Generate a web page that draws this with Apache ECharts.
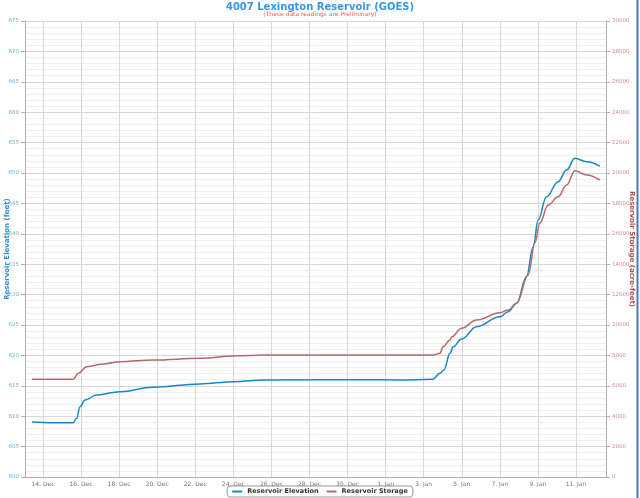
<!DOCTYPE html>
<html>
<head>
<meta charset="utf-8">
<script src="https://cdn.jsdelivr.net/npm/echarts@6/dist/echarts.min.js"></script>
<style>
html,body{margin:0;padding:0;background:#fff;}
#chart{width:640px;height:498px;}
</style>
</head>
<body>
<div id="chart"></div>
<script>
// x values: day number counted from 1 Dec (Dec d = d, Jan d = 31 + d)
const elevDays = [13.42, 14.53, 15.58, 15.77, 15.94, 16.21, 16.82, 18.04, 19.78, 22.25, 23.98, 25.75, 31.00, 32.75, 34.48, 34.85, 35.06, 35.38, 35.55, 35.99, 36.78, 38.00, 38.44, 38.88, 39.40, 39.75, 40.01, 40.45, 41.06, 41.51, 41.94, 42.56, 43.25];
const elevValues = [609.05, 608.93, 608.93, 609.65, 611.56, 612.66, 613.49, 614.03, 614.76, 615.30, 615.68, 615.96, 616.00, 615.95, 616.07, 617.06, 617.60, 620.35, 621.43, 622.70, 624.72, 626.37, 627.19, 628.57, 632.95, 637.88, 642.27, 646.10, 648.57, 650.50, 652.42, 651.86, 651.15];
const storDays = [13.42, 15.59, 15.85, 16.30, 17.17, 18.04, 19.79, 22.25, 23.98, 25.75, 31.00, 34.50, 34.85, 35.02, 35.38, 35.47, 35.99, 36.78, 38.00, 38.44, 38.88, 39.49, 39.84, 40.10, 40.54, 41.06, 41.51, 41.94, 42.56, 43.25];
const storValues = [6428, 6428, 6822, 7257, 7434, 7586, 7697, 7809, 7961, 8026, 8026, 8026, 8138, 8572, 9013, 9230, 9783, 10329, 10809, 10987, 11428, 13290, 15395, 16711, 17895, 18441, 19211, 20152, 19869, 19540];
const xTickDays = [14, 16, 18, 20, 22, 24, 26, 28, 30, 32, 34, 36, 38, 40, 42];
const titleText = '4007 Lexington Reservoir (GOES)';
const subtitleText = '(These data readings are Preliminary)';
const seriesNames = ['Reservoir Elevation', 'Reservoir Storage'];
const axisNames = ['Reservoir Elevation (feet)', 'Reservoir Storage (acre-feet)'];

const FONT = '"DejaVu Sans", Verdana, sans-serif';
const chart = echarts.init(document.getElementById('chart'), null, {renderer: 'canvas'});
const zip = (a, b) => a.map((x, i) => [x, b[i]]);

chart.setOption({
  backgroundColor: '#ffffff',
  animation: false,
  title: {
    text: titleText,
    subtext: subtitleText,
    left: 'center',
    top: -3,
    itemGap: -1,
    textStyle: {fontFamily: FONT, fontSize: 10, fontWeight: 'bold', color: '#3399e6'},
    subtextStyle: {fontFamily: FONT, fontSize: 6, color: '#f05a5a'}
  },
  legend: {
    bottom: 1,
    left: 'center',
    itemWidth: 10,
    itemHeight: 2,
    itemGap: 8,
    padding: [2, 5],
    borderColor: '#999',
    borderWidth: 1,
    borderRadius: 3,
    icon: 'rect',
    textStyle: {fontFamily: FONT, fontSize: 6.5, fontWeight: 'bold', color: '#333'},
    data: seriesNames
  },
  grid: {left: 25, right: 34, top: 21, bottom: 21, containLabel: false, outerBoundsMode: 'none'},
  xAxis: {
    type: 'value',
    min: 13.055,
    max: 43.576,
    axisLine: {show: true, lineStyle: {color: '#b0b0b0', width: 1}},
    axisTick: {show: false, customValues: xTickDays},
    splitLine: {show: true, lineStyle: {color: '#d8d8d8', width: 1}},
    axisLabel: {
      customValues: xTickDays,
      fontFamily: FONT, fontSize: 6, color: '#777', margin: 4,
      formatter: v => {
        const d = Math.round(v);
        return d <= 31 ? d + '. Dec' : (d - 31) + '. Jan';
      }
    }
  },
  yAxis: [
    {
      type: 'value', min: 600, max: 675, interval: 5, position: 'left',
      name: axisNames[0], nameLocation: 'middle', nameGap: 14, nameRotate: 90, nameMoveOverlap: false,
      nameTextStyle: {fontFamily: FONT, fontSize: 7, fontWeight: 'bold', color: '#2f8fd5'},
      axisLine: {show: true, lineStyle: {color: '#b0b0b0'}},
      axisTick: {show: true, length: 4, lineStyle: {color: '#b0b0b0'}},
      axisLabel: {fontFamily: FONT, fontSize: 5.5, color: '#6aaee0', margin: 6},
      splitLine: {show: true, lineStyle: {color: '#d8d8d8'}},
      minorTick: {show: false, splitNumber: 5},
      minorSplitLine: {show: true, lineStyle: {color: '#efefef'}}
    },
    {
      type: 'value', min: 0, max: 30000, interval: 2000, position: 'right',
      name: axisNames[1], nameLocation: 'middle', nameGap: 22, nameRotate: -90, nameMoveOverlap: false,
      nameTextStyle: {fontFamily: FONT, fontSize: 7, fontWeight: 'bold', color: '#b24c4c'},
      axisLine: {show: true, lineStyle: {color: '#b0b0b0'}},
      axisTick: {show: true, length: 4, lineStyle: {color: '#b0b0b0'}},
      axisLabel: {fontFamily: FONT, fontSize: 5.5, color: '#d98c8c', margin: 6, formatter: v => String(v)},
      splitLine: {show: false}
    }
  ],
  series: [
    {
      name: seriesNames[0], type: 'line', yAxisIndex: 0,
      data: zip(elevDays, elevValues),
      smooth: 0.4, smoothMonotone: 'x', showSymbol: false,
      lineStyle: {color: '#1a86c4', width: 1.5},
      itemStyle: {color: '#1a86c4'}
    },
    {
      name: seriesNames[1], type: 'line', yAxisIndex: 1,
      data: zip(storDays, storValues),
      smooth: 0.4, smoothMonotone: 'x', showSymbol: false,
      lineStyle: {color: '#b56a6a', width: 1.5},
      itemStyle: {color: '#b56a6a'}
    }
  ],
  graphic: [
    {type: 'line', shape: {x1: 637.5, y1: 0, x2: 637.5, y2: 498}, style: {stroke: '#4a78c0', lineWidth: 2}}
  ]
});
</script>
</body>
</html>
